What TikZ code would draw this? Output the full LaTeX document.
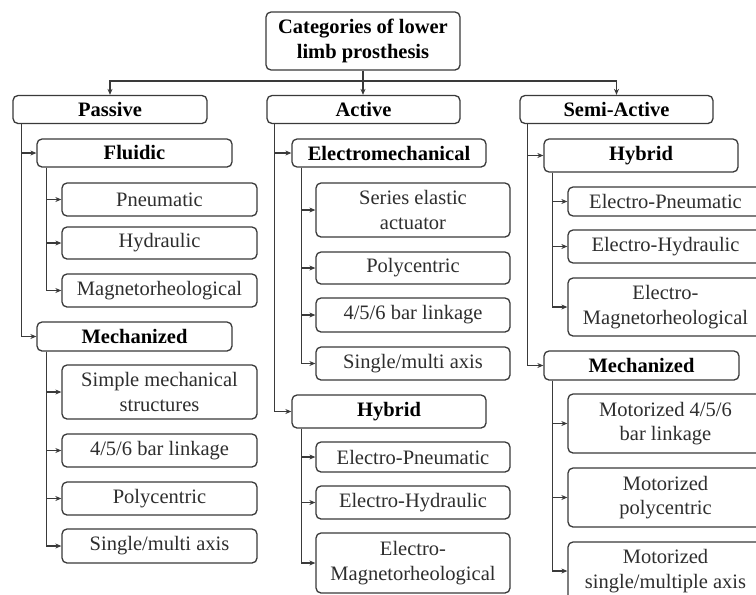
\documentclass[tikz,border=0pt]{standalone}
\usepackage{fontspec}
\setmainfont{Liberation Serif}
\usetikzlibrary{arrows.meta,positioning}
\definecolor{lbline}{HTML}{3A3A3A}
\definecolor{lbtext}{HTML}{2E2E2E}
\newcommand{\lbfont}{\fontsize{20.5}{24.5}\selectfont}
\tikzstyle{lbnode}=[draw=lbline,line width=1.3pt,rounded corners=5pt,align=center,
  inner sep=1pt,minimum width=194pt,font=\lbfont]
\tikzstyle{lbcat}=[lbnode,font=\lbfont\bfseries,text=black,minimum height=28pt]
\tikzstyle{lbleaf}=[lbnode,text=lbtext,minimum width=195pt,minimum height=33pt]
\tikzstyle{lbedge}=[draw=lbline,line width=1.2pt,-{Stealth[length=6pt,width=5pt]}]

\begin{document}
\begin{tikzpicture}[x=1pt,y=-1pt]
    \useasboundingbox (0,0) rectangle (756,595);
    \fill[white] (0,0) rectangle (756,595);
    \clip (0,0) rectangle (756,595);
    % top and first level
    \node[lbcat,minimum height=58pt] (root) at (363,41) {Categories of lower\\limb prosthesis};
    \node[lbcat] (Passive) at (110,109.5) {Passive};
    \node[lbcat,minimum width=193pt] (Active) at (363.5,109.5) {Active};
    \node[lbcat,minimum width=193pt] (Semi) at (616.5,109.5) {Semi-Active};
    % second level
    \node[lbcat,minimum width=195pt] (pFluidic) at (134.5,153) {Fluidic};
    \node[lbcat,minimum width=195pt,minimum height=29pt] (pMech) at (134.5,336.5) {Mechanized};
    \node[lbcat] (aElectro) at (389,153) {Electromechanical};
    \node[lbcat,minimum height=33pt] (aHybrid) at (389,411.5) {Hybrid};
    \node[lbcat,minimum height=33pt] (sHybrid) at (641,155.5) {Hybrid};
    \node[lbcat,minimum width=195pt,minimum height=29pt] (sMech) at (641.5,365.5) {Mechanized};
    % passive leaves
    \node[lbleaf] (pPneu) at (159.5,199.5) {Pneumatic};
    \node[lbleaf,minimum height=32pt] (pHyd) at (159.5,243) {Hydraulic};
    \node[lbleaf] (pMagn) at (159.5,290.5) {Magnetorheological};
    \node[lbleaf,minimum height=54pt] (pSimple) at (159.5,392) {Simple mechanical\\structures};
    \node[lbleaf] (pBar) at (159.5,450.5) {4/5/6 bar linkage};
    \node[lbleaf] (pPoly) at (159.5,498.5) {Polycentric};
    \node[lbleaf,minimum height=34pt] (pSingle) at (159.5,546) {Single/multi axis};
    % active leaves
    \node[lbleaf,minimum width=194pt,minimum height=54pt] (aSeries) at (413,210) {Series elastic\\actuator};
    \node[lbleaf,minimum width=194pt,minimum height=32pt] (aPoly) at (413,268) {Polycentric};
    \node[lbleaf,minimum width=194pt,minimum height=34pt] (aBar) at (413,315) {4/5/6 bar linkage};
    \node[lbleaf,minimum width=194pt] (aSingle) at (413,363.5) {Single/multi axis};
    \node[lbleaf,minimum width=194pt,minimum height=30pt] (aEP) at (413,457) {Electro-Pneumatic};
    \node[lbleaf,minimum width=194pt] (aEH) at (413,502.5) {Electro-Hydraulic};
    \node[lbleaf,minimum width=194pt,minimum height=60pt] (aEM) at (413,563) {Electro-\\Magnetorheological};
    % semi-active leaves
    \node[lbleaf,minimum height=29pt] (sEP) at (665.5,201.5) {Electro-Pneumatic};
    \node[lbleaf] (sEH) at (665.5,246.5) {Electro-Hydraulic};
    \node[lbleaf,minimum height=58pt] (sEM) at (665.5,307) {Electro-\\Magnetorheological};
    \node[lbleaf,minimum height=59pt] (sMot) at (665.5,423.5) {Motorized 4/5/6\\bar linkage};
    \node[lbleaf,minimum height=59pt] (sMotPoly) at (665.5,497.5) {Motorized\\polycentric};
    \node[lbleaf,minimum height=58pt] (sMotSingle) at (665.5,571) {Motorized\\single/multiple axis};
    % connectors
    \coordinate (bus) at (363,81);
    \draw[lbedge] (root.south) -- (root.south |- Active.north);
    \draw[lbedge] (bus) -| (Passive.north);
    \draw[lbedge] (bus) -| (Semi.north);
    \foreach \c in {pFluidic,pMech} \draw[lbedge] ([xshift=9pt]Passive.south west) |- (\c.west);
    \foreach \c in {aElectro,aHybrid} \draw[lbedge] ([xshift=8pt]Active.south west) |- (\c.west);
    \foreach \c in {sHybrid,sMech} \draw[lbedge] ([xshift=8pt]Semi.south west) |- (\c.west);
    \foreach \c in {pPneu,pHyd,pMagn} \draw[lbedge] ([xshift=10pt]pFluidic.south west) |- (\c.west);
    \foreach \c in {pSimple,pBar,pPoly,pSingle} \draw[lbedge] ([xshift=10pt]pMech.south west) |- (\c.west);
    \foreach \c in {aSeries,aPoly,aBar,aSingle} \draw[lbedge] ([xshift=10pt]aElectro.south west) |- (\c.west);
    \foreach \c in {aEP,aEH,aEM} \draw[lbedge] ([xshift=10pt]aHybrid.south west) |- (\c.west);
    \foreach \c in {sEP,sEH,sEM} \draw[lbedge] ([xshift=9pt]sHybrid.south west) |- (\c.west);
    \foreach \c in {sMot,sMotPoly,sMotSingle} \draw[lbedge] ([xshift=9pt]sMech.south west) |- (\c.west);
\end{tikzpicture}
\end{document}
